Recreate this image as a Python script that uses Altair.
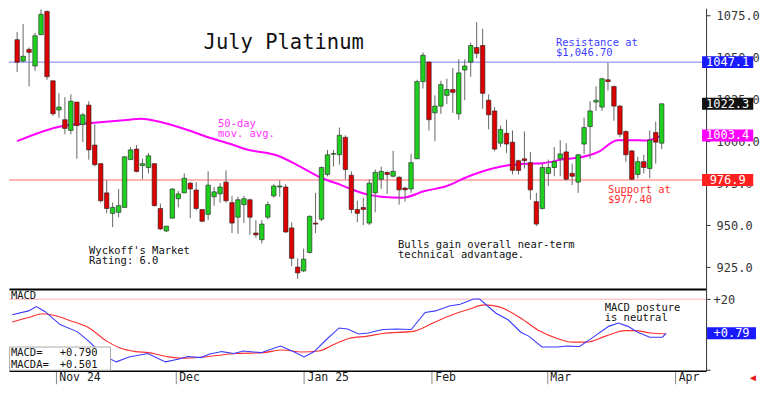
import altair as alt
import pandas as pd

# ---------------- data ----------------
opens = [1060.5,1047.7,1054.7,1044.8,1063.4,1077.3,1036.0,1018.6,1012.8,1006.4,
         1023.3,1009.9,1021.5,997.7,986.6,969.2,957.0,957.6,960.5,989.0,
         995.3,985.5,984.3,986.6,959.9,946.5,954.1,965.7,969.2,975.0,
         970.9,959.3,956.4,966.9,968.6,975.6,963.4,954.7,962.2,965.1,
         945.3,941.3,954.7,967.4,972.7,972.7,948.3,925.0,922.7,933.7,
         951.2,953.5,980.2,992.2,991.9,1002.3,979.7,959.3,960.5,951.2,
         969.2,977.3,981.4,979.1,978.5,972.1,971.5,989.5,1035.5,1047.1,
         1016.9,1020.9,1027.3,1030.8,1016.3,1042.4,1047.1,1055.8,1057.0,1024.4,
         1018.0,998.8,1004.7,999.4,988.4,989.5,987.2,964.0,959.9,980.8,
         984.3,989.5,993.6,980.8,975.6,998.3,1008.7,1023.3,1020.3,1036.6,
         1032.6,1020.9,1005.8,994.2,980.2,987.8,983.7,1005.2,998.8]
highs = [1065.1,1069.8,1055.8,1064.5,1078.5,1077.9,1036.0,1028.5,1026.2,1027.9,
         1023.3,1016.9,1023.8,1009.9,987.0,976.7,963.4,971.5,991.0,996.5,
         997.7,989.5,993.0,986.6,962.8,949.4,972.0,970.3,980.8,975.6,
         975.6,959.3,982.0,972.7,975.0,982.6,967.4,966.9,967.4,965.7,
         952.9,952.9,964.0,974.4,976.7,974.4,951.7,930.2,936.0,955.8,
         969.2,984.9,994.8,994.8,1008.1,1003.5,982.0,964.5,966.3,977.3,
         983.1,984.9,982.0,994.2,979.1,972.7,992.4,1036.6,1052.9,1047.7,
         1027.3,1036.0,1037.2,1043.6,1048.8,1048.8,1058.7,1070.9,1066.9,1027.9,
         1020.3,1009.3,1012.8,1006.4,989.0,1005.8,993.6,969.2,986.6,989.0,
         996.5,1000.6,998.8,986.6,992.4,1014.0,1023.8,1032.6,1037.8,1046.7,
         1033.1,1021.5,1006.4,994.8,990.7,991.9,1006.4,1011.6,1022.3]
lows = [1041.3,1047.1,1032.6,1041.9,1063.4,1036.6,1015.1,1014.0,1004.1,1004.1,
        989.5,999.4,989.0,984.9,963.4,957.0,948.8,954.7,960.5,989.0,
        981.4,977.3,980.8,961.0,947.1,945.9,954.1,960.5,969.2,954.1,
        958.7,951.7,952.9,961.6,963.4,963.4,945.3,944.8,951.2,944.2,
        942.4,939.0,953.5,966.3,966.9,945.3,925.6,918.0,922.1,933.1,
        945.3,952.3,979.1,984.9,986.0,977.3,957.0,951.7,950.0,950.0,
        957.6,971.5,968.6,978.5,962.2,964.0,969.2,989.5,1031.4,1006.4,
        1000.0,1016.3,1022.1,1016.9,1012.8,1024.4,1038.4,1049.4,1019.2,1007.0,
        994.2,996.5,993.0,980.2,980.2,983.7,965.1,949.4,959.3,973.3,
        979.1,979.1,976.7,973.8,969.2,992.4,989.5,1018.0,1018.0,1030.2,
        1012.2,1002.3,987.8,976.7,977.9,980.8,977.9,986.6,995.3]
closes = [1047.1,1050.6,1052.9,1062.8,1075.6,1038.4,1016.3,1020.3,1007.6,1023.8,
          1009.3,1015.7,994.8,986.0,964.5,959.9,960.5,961.6,990.7,994.8,
          982.0,986.6,991.3,961.6,947.7,949.4,971.5,968.6,977.9,971.5,
          959.9,952.3,973.8,969.8,972.7,964.5,951.2,965.1,965.7,954.7,
          944.2,950.6,962.2,973.3,973.3,945.9,930.2,921.5,929.7,955.2,
          950.6,984.3,991.9,992.7,1003.5,983.1,959.3,957.0,959.3,975.0,
          981.4,982.0,980.2,982.0,971.0,971.0,987.2,1035.5,1051.2,1012.8,
          1020.9,1033.7,1030.8,1029.1,1040.7,1044.8,1057.0,1052.3,1028.5,1015.7,
          995.3,1007.0,998.3,982.6,982.6,988.4,971.0,950.6,984.3,984.3,
          987.8,992.4,977.3,979.1,991.9,1008.1,1018.0,1024.4,1037.2,1035.5,
          1020.9,1004.1,991.9,977.3,987.8,984.3,1000.6,999.4,1022.3]

ma_i = [0, 4.8, 8, 12.9, 18.8, 20.7, 24.5, 28.8, 32, 35.8, 38.2, 43.7, 47.4, 51.1,
        54.3, 55.9, 59, 61, 64.5, 68.3, 72, 75.3, 79, 82, 85.4, 88, 92, 94, 97.4,
        100.6, 102.7, 105.5, 108]
ma_v = [1000.0, 1006.4, 1009.3, 1011.0, 1012.8, 1013.4, 1011.0, 1006.4, 1002.3, 998.3,
        995.3, 991.3, 984.9, 977.9, 973.8, 971.5, 968.0, 966.9, 966.3, 970.3, 973.3,
        978.5, 983.1, 985.5, 986.6, 986.9, 989.5, 990.1, 993.6, 1000.6, 1000.6, 1000.4, 1003.4]

macd_i = [0, 2.7, 4, 5.4, 7.9, 10.8, 12.9, 15.1, 17.2, 19.3, 22.4, 25.3, 27.4, 29, 31.2,
          32.5, 34.6, 36.6, 38.2, 41.1, 44.3, 46.6, 48.2, 49.9, 51.9, 54, 55.4, 57.2, 58.8,
          61.2, 63.5, 65.9, 68.2, 69.9, 72.2, 74, 76.2, 77.2, 79.9, 81.9, 84, 85.3, 87.5,
          90, 91.6, 93.7, 95.8, 98.5, 100.1, 101.7, 103.3, 105.3, 107.4, 108]
macd_v = [11.2, 13.4, 15.8, 13.1, 5.7, 1.6, -4.5, -11.9, -15.3, -12.5, -10.6, -15.3, -13.8,
          -12.3, -12.9, -11.0, -9.5, -10.6, -9.2, -10.1, -6.4, -9.7, -12.5, -9.5, -2.7, 3.8,
          3.2, 0.4, 1.0, 2.9, 3.2, 2.9, 12.5, 13.4, 16.2, 17.1, 20.1, 20.1, 12.1, 8.4, 1.4,
          -0.8, -6.9, -6.9, -6.4, -6.6, -1.8, 4.7, 6.6, 4.7, 1.4, -1.4, -1.4, 0.79]
sig_i = [0, 2.7, 5.1, 7, 9.6, 12.7, 15.6, 17.7, 20.4, 22.5, 25.8, 28, 31.7, 37.1, 41.4,
         44.6, 47.9, 50.6, 53.2, 55.6, 58.7, 61.2, 66.2, 69.5, 72.7, 75.4, 78, 80.3, 84,
         87.2, 90, 92.5, 94.8, 98, 101.2, 102.9, 105.4, 108]
sig_v = [7.1, 9.7, 11.8, 10.8, 7.9, 3.8, -3.6, -7.3, -9.5, -10.1, -12.5, -13.2, -12.5,
         -10.6, -10.1, -8.6, -9.7, -9.2, -5.4, -2.1, -0.8, 0.7, 1.9, 6.6, 11.2, 14.3, 16.8,
         15.8, 9.3, 1.9, -2.1, -4.2, -4.2, -0.8, 2.3, 2.3, 1.0, 0.501]

month_pos = [7.2, 27, 48.2, 69.3, 88.3, 109.5]
month_lab = ["Nov 24", "Dec", "Jan 25", "Feb", "Mar", "Apr"]
price_ticks = [925, 950, 975, 1000, 1025, 1050, 1075]
macd_ticks = [-20, -10, 0, 10, 20]

resistance_line = 1047.1
support_line = 976.9
last_close = 1022.3
ma_last = 1003.4
macd_last = 0.790
macda_last = 0.501

# ---------------- layout constants ----------------
W = 698
H_PRICE = 281
H_MACD = 82
X_DOM = [-0.53, 114.6]
PX = W / (X_DOM[1] - X_DOM[0])          # pixels per candle
P_DOM = [912.0, 1079.2]
PPU = H_PRICE / (P_DOM[1] - P_DOM[0])   # pixels per price unit
M_DOM = [-20.3, 25.8]
MPU = H_MACD / (M_DOM[1] - M_DOM[0])

MONO = "DejaVu Sans Mono"

xs = alt.Scale(domain=X_DOM, nice=False, zero=False)
ps = alt.Scale(domain=P_DOM, nice=False, zero=False)
ms = alt.Scale(domain=M_DOM, nice=False, zero=False)

cdf = pd.DataFrame({"i": list(range(len(opens))), "open": opens, "high": highs,
                    "low": lows, "close": closes})
cdf["dir"] = ["up" if c >= o else "down" for o, c in zip(opens, closes)]

x_price_axis = alt.Axis(labels=False, ticks=False, domain=True, domainColor="black",
                        domainWidth=2, title=None, grid=False)
y_price_axis = alt.Axis(orient="right", values=price_ticks, format=".1f", tickSize=4,
                        labelPadding=6, labelFont=MONO, labelFontSize=12,
                        labelColor="#333", domainColor="#333", tickColor="#333",
                        grid=False, title=None)

wicks = alt.Chart(cdf).mark_rule(color="#666", strokeWidth=1).encode(
    x=alt.X("i:Q", scale=xs, axis=x_price_axis),
    y=alt.Y("low:Q", scale=ps, axis=y_price_axis),
    y2="high:Q",
)
bodies = alt.Chart(cdf).mark_bar(size=4.5, stroke="#222", strokeWidth=0.6).encode(
    x=alt.X("i:Q", scale=xs),
    y=alt.Y("open:Q", scale=ps),
    y2="close:Q",
    color=alt.Color("dir:N", scale=alt.Scale(domain=["up", "down"],
                                             range=["#1fd11f", "#dd0000"]), legend=None),
)

res_rule = alt.Chart(pd.DataFrame({"y": [resistance_line]})).mark_rule(
    color="#7b7bf2", strokeWidth=1).encode(y=alt.Y("y:Q", scale=ps))
sup_rule = alt.Chart(pd.DataFrame({"y": [support_line]})).mark_rule(
    color="#ff9a9a", strokeWidth=1.6).encode(y=alt.Y("y:Q", scale=ps))

ma_line = alt.Chart(pd.DataFrame({"i": ma_i, "v": ma_v})).mark_line(
    color="#ff00ff", strokeWidth=2, interpolate="monotone").encode(
    x=alt.X("i:Q", scale=xs), y=alt.Y("v:Q", scale=ps))

# value boxes on the right axis
bx1 = X_DOM[1] + 1 / PX
bx2 = X_DOM[1] + 53 / PX
half = 6.0 / PPU
box_vals = [resistance_line, last_close, ma_last, support_line]
box_cols = ["#1a1aff", "#111111", "#ff00ff", "#ff2020"]
bdf = pd.DataFrame({
    "x1": [bx1] * 4, "x2": [bx2] * 4, "xm": [(bx1 + bx2) / 2] * 4,
    "y": box_vals,
    "y1": [v - half for v in box_vals], "y2": [v + half for v in box_vals],
    "c": box_cols, "t": [f"{v:.1f}" for v in box_vals],
})
boxes = alt.Chart(bdf).mark_rect().encode(
    x=alt.X("x1:Q", scale=xs), x2="x2:Q",
    y=alt.Y("y1:Q", scale=ps), y2="y2:Q",
    color=alt.Color("c:N", scale=None))
box_txt = alt.Chart(bdf).mark_text(font=MONO, fontSize=12, color="white").encode(
    x=alt.X("xm:Q", scale=xs), y=alt.Y("y:Q", scale=ps), text="t:N")


def to_i(px):      # reference pixel x -> candle index position
    return max((px - 3.3) / 6.2, X_DOM[0] + 0.15)


def to_p(py):      # reference pixel y -> price
    return 1075 - (py - 15) / 1.72


notes = pd.DataFrame({
    "x": [to_i(212), to_i(212), to_i(563), to_i(563), to_i(617), to_i(617),
          to_i(78), to_i(78), to_i(399), to_i(399)],
    "y": [to_p(126), to_p(137), to_p(43), to_p(53.5), to_p(194.5), to_p(204),
          to_p(256.5), to_p(267), to_p(250), to_p(260.5)],
    "t": ["50-day", "mov. avg.", "Resistance at", "$1,046.70", "Support at", "$977.40",
          "Wyckoff's Market", "Rating: 6.0", "Bulls gain overall near-term",
          "technical advantage."],
    "c": ["#ff33ff", "#ff33ff", "#3c3cff", "#3c3cff", "#ff3030", "#ff3030",
          "#111", "#111", "#111", "#111"],
})
note_txt = alt.Chart(notes).mark_text(font=MONO, fontSize=10.5, align="left",
                                      baseline="middle").encode(
    x=alt.X("x:Q", scale=xs), y=alt.Y("y:Q", scale=ps), text="t:N",
    color=alt.Color("c:N", scale=None))

title_txt = alt.Chart(pd.DataFrame({"x": [to_i(197)], "y": [to_p(43)],
                                    "t": ["July Platinum"]})).mark_text(
    font=MONO, fontSize=20.5, align="left", baseline="middle", color="#111").encode(
    x=alt.X("x:Q", scale=xs), y=alt.Y("y:Q", scale=ps), text="t:N")

price = alt.layer(res_rule, sup_rule, ma_line, wicks, bodies, boxes, box_txt,
                  note_txt, title_txt).properties(width=W, height=H_PRICE)

# ---------------- MACD panel ----------------
label_expr = "".join(f"datum.value == {p} ? '{l}' : " for p, l in zip(month_pos, month_lab)) + "''"
x_macd_axis = alt.Axis(values=month_pos, labelExpr=label_expr, tickSize=13,
                       tickColor="#888", tickWidth=1, labelAlign="left",
                       labelBaseline="middle", labelPadding=-6, labelOffset=3,
                       labelFont=MONO, labelFontSize=11.5, labelColor="#222",
                       labelOverlap=False, labelFlush=False, labelBound=False,
                       domainColor="black", domainWidth=1.5, title=None, grid=False)
y_macd_axis = alt.Axis(orient="right", values=macd_ticks,
                       labelExpr="datum.value == 20 ? '+20' : ''", tickSize=4,
                       labelPadding=3, labelFont=MONO, labelFontSize=12,
                       labelColor="#333", domainColor="#333", tickColor="#333",
                       grid=False, title=None)

m_rule = alt.Chart(pd.DataFrame({"y": [20]})).mark_rule(
    color="#ffb0b0", strokeWidth=1).encode(
    x=alt.value(0), x2=alt.value(W),
    y=alt.Y("y:Q", scale=ms, axis=y_macd_axis))
sig_line = alt.Chart(pd.DataFrame({"i": sig_i, "v": sig_v})).mark_line(
    color="#ff3030", strokeWidth=1.1, interpolate="monotone").encode(
    x=alt.X("i:Q", scale=xs, axis=x_macd_axis), y=alt.Y("v:Q", scale=ms))
macd_line = alt.Chart(pd.DataFrame({"i": macd_i, "v": macd_v})).mark_line(
    color="#3a3aff", strokeWidth=1.1).encode(
    x=alt.X("i:Q", scale=xs), y=alt.Y("v:Q", scale=ms))


def to_m(py):      # reference pixel y -> MACD value
    return (343.5 - py) / 1.8


info_box = alt.Chart(pd.DataFrame({"x1": [X_DOM[0] + 0.1], "x2": [to_i(104)],
                                   "y1": [M_DOM[0] + 0.3], "y2": [to_m(356)]})).mark_rect(
    fill="white", stroke="#aaa", strokeWidth=1).encode(
    x=alt.X("x1:Q", scale=xs), x2="x2:Q", y=alt.Y("y1:Q", scale=ms), y2="y2:Q")
mnotes = pd.DataFrame({
    "x": [to_i(2), to_i(610), to_i(610), to_i(2), to_i(2), to_i(52), to_i(52)],
    "y": [to_m(304), to_m(316.5), to_m(326.5), to_m(362), to_m(374),
          to_m(362), to_m(374)],
    "t": ["MACD", "MACD posture", "is neutral", "MACD=", "MACDA=",
          f"{macd_last:+.3f}", f"{macda_last:+.3f}"],
})
mnote_txt = alt.Chart(mnotes).mark_text(font=MONO, fontSize=10.5, align="left",
                                        baseline="middle", color="#111").encode(
    x=alt.X("x:Q", scale=xs), y=alt.Y("y:Q", scale=ms), text="t:N")

mhalf = 6.0 / MPU
mbdf = pd.DataFrame({"x1": [bx1], "x2": [X_DOM[1] + 50 / PX],
                     "xm": [(bx1 + X_DOM[1] + 50 / PX) / 2],
                     "y": [macd_last], "y1": [macd_last - mhalf], "y2": [macd_last + mhalf],
                     "t": [f"{macd_last:+.2f}"]})
mbox = alt.Chart(mbdf).mark_rect(color="#1a1aff").encode(
    x=alt.X("x1:Q", scale=xs), x2="x2:Q", y=alt.Y("y1:Q", scale=ms), y2="y2:Q")
mbox_txt = alt.Chart(mbdf).mark_text(font=MONO, fontSize=12, color="white").encode(
    x=alt.X("xm:Q", scale=xs), y=alt.Y("y:Q", scale=ms), text="t:N")

arrow = alt.Chart(pd.DataFrame({"x": [X_DOM[1] + 47 / PX],
                                "y": [M_DOM[0] - 7 / MPU],
                                "t": ["◄"]})).mark_text(
    color="#ee1111", fontSize=10, baseline="middle").encode(
    x=alt.X("x:Q", scale=xs), y=alt.Y("y:Q", scale=ms), text="t:N")

macd = alt.layer(m_rule, sig_line, macd_line, info_box, mnote_txt, mbox, mbox_txt,
                 arrow).properties(width=W, height=H_MACD)

chart = alt.vconcat(price, macd, spacing=0).properties(
    padding=0, background="white").configure_view(stroke=None)

chart.save("out.html", embed_options={"renderer": "svg", "actions": False})
